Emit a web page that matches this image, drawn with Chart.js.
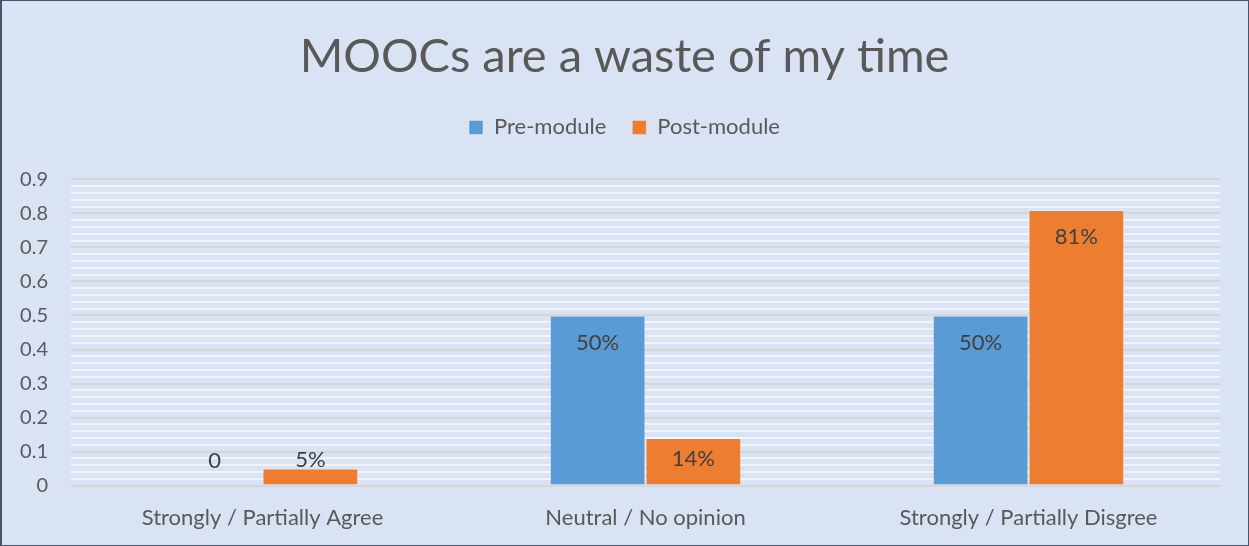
<!DOCTYPE html>
<html>
<head>
<meta charset="utf-8">
<title>MOOCs are a waste of my time</title>
<script src="https://cdn.jsdelivr.net/npm/chart.js@4"></script>
<style>
    html, body { margin: 0; padding: 0; background: #dae3f3; }
    #wrap { width: 1249px; height: 546px; position: relative; }
</style>
</head>
<body>
<div id="wrap"><canvas id="chart"></canvas></div>
<script>
// Chart data
const categories = ['Strongly / Partially Agree', 'Neutral / No opinion', 'Strongly / Partially Disgree'];
const preModule = [0, 0.5, 0.5];
const postModule = [0.05, 0.14, 0.81];
const yTicks = [0, 0.1, 0.2, 0.3, 0.4, 0.5, 0.6, 0.7, 0.8, 0.9];

const textColor = '#595959';
const fontFamily = 'Lato, "Open Sans", sans-serif';

// Background + frame
const frame = {
    id: 'frame',
    beforeDraw: function (chart) {
        const ctx = chart.ctx;
        ctx.save();
        ctx.fillStyle = '#dae3f3';
        ctx.fillRect(0, 0, chart.width, chart.height);
        ctx.strokeStyle = '#44546a';
        ctx.lineWidth = 1;
        ctx.strokeRect(0.5, 0.5, chart.width - 1, chart.height - 1);
        ctx.fillStyle = '#44546a';
        ctx.fillRect(0, 0, 2, chart.height);
        ctx.restore();
    }
};

// Extra room between the legend and the plot
const legendGap = {
    id: 'legendGap',
    beforeInit: function (chart) {
        const fit = chart.legend.fit;
        chart.legend.fit = function () {
            fit.bind(chart.legend)();
            this.height += 31;
        };
    }
};

// Value labels on the bars
function labelText(v) {
    return v === 0 ? '0' : Math.round(v * 100) + '%';
}

const barLabels = {
    id: 'barLabels',
    afterDatasetsDraw: function (chart) {
        const ctx = chart.ctx;
        ctx.save();
        ctx.font = '22px ' + fontFamily;
        ctx.fillStyle = '#404040';
        ctx.textAlign = 'center';
        ctx.textBaseline = 'middle';
        chart.data.datasets.forEach(function (ds, i) {
            chart.getDatasetMeta(i).data.forEach(function (bar, j) {
                const h = bar.base - bar.y;
                let y;
                if (h < 30) {
                    y = Math.min(bar.y - 9, bar.base - 25);
                } else {
                    y = bar.y + Math.min(27, h / 2 - 2);
                }
                ctx.fillText(labelText(ds.data[j]), bar.x, y);
            });
        });
        ctx.restore();
    }
};

new Chart(document.getElementById('chart'), {
    type: 'bar',
    data: {
        labels: categories,
        datasets: [
            {
                label: 'Pre-module',
                data: preModule,
                backgroundColor: '#5b9bd5',
                borderColor: 'rgba(255,255,255,0.35)',
                borderWidth: 1
            },
            {
                label: 'Post-module',
                data: postModule,
                backgroundColor: '#ed7d31',
                borderColor: 'rgba(255,255,255,0.35)',
                borderWidth: 1
            }
        ]
    },
    options: {
        responsive: true,
        maintainAspectRatio: false,
        animation: false,
        layout: {
            padding: { left: 15, right: 15, top: 0, bottom: -4 }
        },
        datasets: {
            bar: { barPercentage: 1, categoryPercentage: 0.5 }
        },
        plugins: {
            title: {
                display: true,
                text: 'MOOCs are a waste of my time',
                color: textColor,
                font: { family: fontFamily, size: 47, weight: 'normal' },
                padding: { top: 29, bottom: 5 }
            },
            legend: {
                display: true,
                position: 'top',
                labels: {
                    color: textColor,
                    font: { family: fontFamily, size: 22 },
                    boxWidth: 14,
                    boxHeight: 14,
                    padding: 26
                }
            },
            tooltip: { enabled: false }
        },
        scales: {
            x: {
                grid: { display: false, drawTicks: false },
                border: { display: false },
                ticks: {
                    color: textColor,
                    font: { family: fontFamily, size: 22 },
                    padding: 19
                }
            },
            y: {
                min: 0,
                max: yTicks[yTicks.length - 1],
                border: { display: false },
                afterFit: function (scale) {
                    scale.width = 56;
                },
                grid: {
                    drawTicks: false,
                    lineWidth: 2,
                    color: function (ctx) {
                        const v = Math.round(ctx.tick.value * 100);
                        return v % 10 === 0 ? '#d6d6d6' : '#f0f3f8';
                    }
                },
                ticks: {
                    stepSize: 0.02,
                    autoSkip: false,
                    color: textColor,
                    font: { family: fontFamily, size: 20 },
                    padding: 23,
                    callback: function (value) {
                        const v = Math.round(value * 100);
                        if (v % 10 !== 0) return '';
                        return yTicks.indexOf(v / 100) === 0 ? '0' : (v / 100).toFixed(1);
                    }
                }
            },
            // empty right-hand axis, only keeps the plot clear of the right edge
            yRight: {
                position: 'right',
                display: true,
                grid: { display: false, drawTicks: false },
                border: { display: false },
                ticks: { display: false },
                afterFit: function (scale) {
                    scale.width = 14;
                }
            }
        }
    },
    plugins: [frame, legendGap, barLabels]
});
</script>
</body>
</html>
